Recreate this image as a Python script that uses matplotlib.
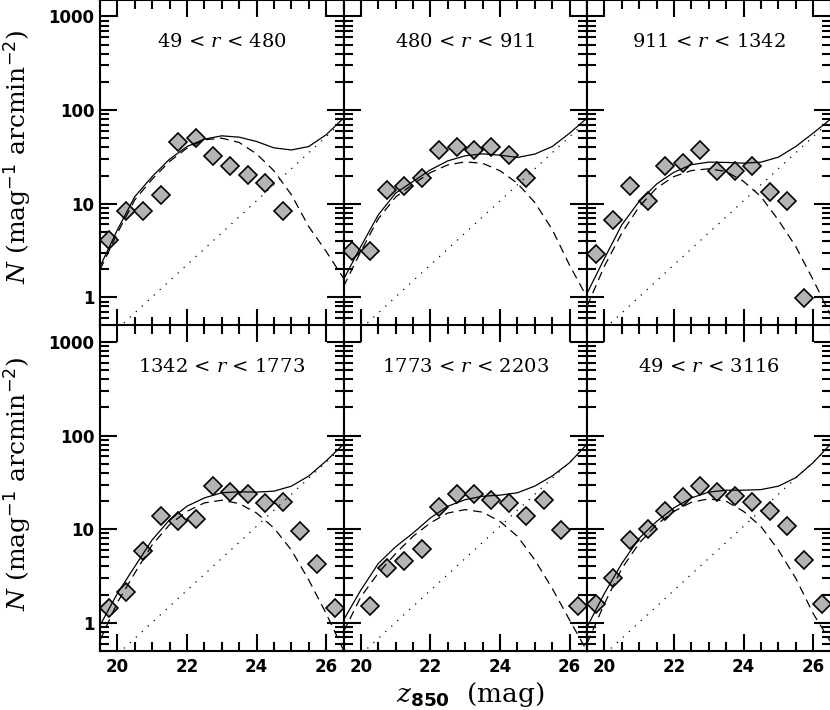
import numpy as np
import matplotlib
matplotlib.use("Agg")
import matplotlib.pyplot as plt
from matplotlib.ticker import FixedLocator, MultipleLocator, LogLocator, FuncFormatter, NullFormatter

# radial bins (labels of the six panels)
panel_labels = ["49 < $r$ < 480", "480 < $r$ < 911", "911 < $r$ < 1342",
                "1342 < $r$ < 1773", "1773 < $r$ < 2203", "49 < $r$ < 3116"]

# observed counts (diamonds)
obs_mag_1 = [19.75, 20.25, 20.75, 21.25, 21.75, 22.25, 22.75, 23.25, 23.75, 24.25, 24.75]
obs_n_1 = [4.1, 8.3, 8.3, 12.4, 45.5, 50, 32.5, 25, 20.4, 16.6, 8.3]
obs_mag_2 = [19.75, 20.25, 20.75, 21.25, 21.75, 22.25, 22.75, 23.25, 23.75, 24.25, 24.75]
obs_n_2 = [3.16, 3.16, 14.1, 15.6, 18.8, 37.7, 40.8, 37.7, 40.8, 33.3, 18.8]
obs_mag_3 = [19.75, 20.25, 20.75, 21.25, 21.75, 22.25, 22.75, 23.25, 23.75, 24.25, 24.75, 25.25, 25.75]
obs_n_3 = [2.89, 6.7, 15.3, 10.6, 25, 27.1, 37.7, 22.6, 22.6, 25, 13.3, 10.6, 0.98]
obs_mag_4 = [19.75, 20.25, 20.75, 21.25, 21.75, 22.25, 22.75, 23.25, 23.75, 24.25, 24.75, 25.25, 25.75, 26.25]
obs_n_4 = [1.45, 2.15, 5.8, 13.7, 12.1, 13.0, 29.3, 24.8, 23.5, 19.1, 19.3, 9.5, 4.3, 1.45]
obs_mag_5 = [20.25, 20.75, 21.25, 21.75, 22.25, 22.75, 23.25, 23.75, 24.25, 24.75, 25.25, 25.75, 26.25]
obs_n_5 = [1.53, 3.83, 4.6, 6.1, 17.3, 23.5, 23.9, 20.4, 19.1, 13.7, 20.7, 9.9, 1.51]
obs_mag_6 = [19.75, 20.25, 20.75, 21.25, 21.75, 22.25, 22.75, 23.25, 23.75, 24.25, 24.75, 25.25, 25.75, 26.25]
obs_n_6 = [1.58, 2.99, 7.7, 10.1, 15.5, 22.2, 29.3, 24.8, 22.9, 19.6, 15.5, 10.7, 4.7, 1.58]

# model curves every 0.5 mag
curve_mag = [19.5, 20.0, 20.5, 21.0, 21.5, 22.0, 22.5, 23.0, 23.5, 24.0, 24.5, 25.0, 25.5, 26.0, 26.5]
total_1 = [2.13, 5.26, 11.9, 19.5, 29.9, 40.8, 48.9, 53.1, 51.4, 46.2, 39.5, 37.5, 40.8, 54.5, 82]
cluster_1 = [1.97, 4.85, 11.0, 18.3, 28.3, 39.2, 48.2, 50.1, 45.1, 34.1, 22.5, 12.5, 5.7, 3.1, 1.6]
total_2 = [1.55, 3.5, 7.6, 13.0, 17.3, 23.0, 28.7, 32.5, 34.1, 33.0, 31.2, 33.9, 40.8, 56.7, 82]
cluster_2 = [1.3, 3.1, 6.9, 11.8, 16.2, 21.5, 26.0, 28.0, 27.0, 22.5, 16.5, 10.3, 5.3, 2.2, 1.0]
total_3 = [1.1, 2.6, 5.95, 10.6, 16.2, 21.7, 26.1, 27.8, 27.6, 27.1, 27.8, 31.4, 40.8, 56.7, 80]
cluster_3 = [0.8, 2.15, 4.85, 9.3, 14.7, 19.5, 22.6, 23.6, 22.1, 17.3, 11.9, 6.7, 3.5, 1.54, 0.65]
total_4 = [0.94, 2.06, 3.99, 7.7, 12.6, 17.6, 21.6, 24.5, 25.1, 24.9, 25.5, 28.8, 37, 53.6, 81]
cluster_4 = [0.65, 1.65, 3.4, 6.8, 11.2, 15.5, 19.1, 20.4, 18.8, 14.9, 10.3, 6.0, 2.87, 1.26, 0.51]
total_5 = [1.07, 2.24, 4.3, 6.5, 9.1, 13.2, 17.6, 20.7, 22.5, 23.1, 24.5, 28.9, 37, 51.4, 81]
cluster_5 = [0.8, 1.9, 3.4, 5.5, 8.4, 11.7, 14.9, 16.2, 15.2, 12.1, 8.4, 4.7, 2.33, 1.07, 0.5]
total_6 = [0.9, 2.06, 4.3, 8.0, 12.1, 16.9, 21.6, 24.9, 26.1, 26.1, 26.5, 28.8, 35.5, 51.4, 81]
cluster_6 = [0.6, 1.6, 3.8, 7.1, 11.2, 15.5, 19.4, 21.1, 19.9, 15.5, 10.7, 6.0, 3.0, 1.26, 0.63]

# background (dotted), same in every panel
bg_mag = [19.5, 26.5]
bg_n = [0.31, 77]

obs_mag = [obs_mag_1, obs_mag_2, obs_mag_3, obs_mag_4, obs_mag_5, obs_mag_6]
obs_n = [obs_n_1, obs_n_2, obs_n_3, obs_n_4, obs_n_5, obs_n_6]
totals = [total_1, total_2, total_3, total_4, total_5, total_6]
clusters = [cluster_1, cluster_2, cluster_3, cluster_4, cluster_5, cluster_6]

plt.rcParams["mathtext.fontset"] = "custom"
plt.rcParams["mathtext.rm"] = "DejaVu Serif"
plt.rcParams["mathtext.it"] = "DejaVu Serif:italic"
plt.rcParams["mathtext.bf"] = "DejaVu Sans:bold"
plt.rcParams["mathtext.sf"] = "DejaVu Sans"

W, H = 830.0, 710.0
lefts = [100, 343.5, 587]
tops = [0, 325.5]
pw, ph = 243.5, 325.5

fig = plt.figure(figsize=(W / 100, H / 100), dpi=100)

for i in range(6):
    row, col = divmod(i, 3)
    ax = fig.add_axes([lefts[col] / W, (H - tops[row] - ph) / H, pw / W, ph / H])
    ax.set_yscale("log")
    ax.set_xlim(19.5, 26.5)
    ax.set_ylim(0.5, 1500)

    ax.plot(obs_mag[i], obs_n[i], "D", ms=9.3, mfc="#b4b4b4", mec="k", mew=1.2, zorder=2)
    ax.plot(curve_mag, totals[i], color="k", lw=0.9, zorder=3)
    ax.plot(curve_mag, clusters[i], color="k", lw=0.9, dashes=(7, 4.5), zorder=3)
    ax.plot(bg_mag, bg_n, color="k", lw=0.9, dashes=(1, 5.5), zorder=3)

    ax.text(0.5, 1 - 42 / ph, panel_labels[i], transform=ax.transAxes,
            ha="center", va="center", fontsize=14, family="DejaVu Serif")

    ax.xaxis.set_major_locator(FixedLocator([20, 22, 24, 26]))
    ax.xaxis.set_minor_locator(MultipleLocator(0.5))
    ax.yaxis.set_major_locator(LogLocator(base=10, numticks=10))
    ax.yaxis.set_minor_locator(LogLocator(base=10, subs=np.arange(2, 10), numticks=10))
    ax.yaxis.set_major_formatter(FuncFormatter(lambda v, p: f"{v:g}"))
    ax.yaxis.set_minor_formatter(NullFormatter())
    ax.tick_params(which="both", direction="in", top=True, right=True, width=1.5,
                   labelsize=12, labelleft=(col == 0), labelbottom=(row == 1))
    ax.tick_params(which="major", length=12)
    ax.tick_params(which="minor", length=6.5)
    ax.tick_params(axis="x", pad=5)
    ax.tick_params(axis="y", pad=4)
    for lab in ax.get_xticklabels() + ax.get_yticklabels():
        lab.set_fontweight("bold")
        lab.set_family("DejaVu Sans")
    for sp in ax.spines.values():
        sp.set_linewidth(1.5)

ylab = r"$N$ (mag$^{\mathsf{-1}}$ arcmin$^{\mathsf{-2}}$)"
fig.text(17 / W, 1 - 157 / H, ylab, rotation=90, ha="center", va="center",
         fontsize=18, family="DejaVu Serif")
fig.text(17 / W, 1 - 484 / H, ylab, rotation=90, ha="center", va="center",
         fontsize=18, family="DejaVu Serif")
fig.text(470 / W, 8 / H, r"$z_{\mathbf{850}}$  (mag)", ha="center", va="baseline",
         fontsize=19, family="DejaVu Serif")

fig.savefig("out.png", dpi=100)
